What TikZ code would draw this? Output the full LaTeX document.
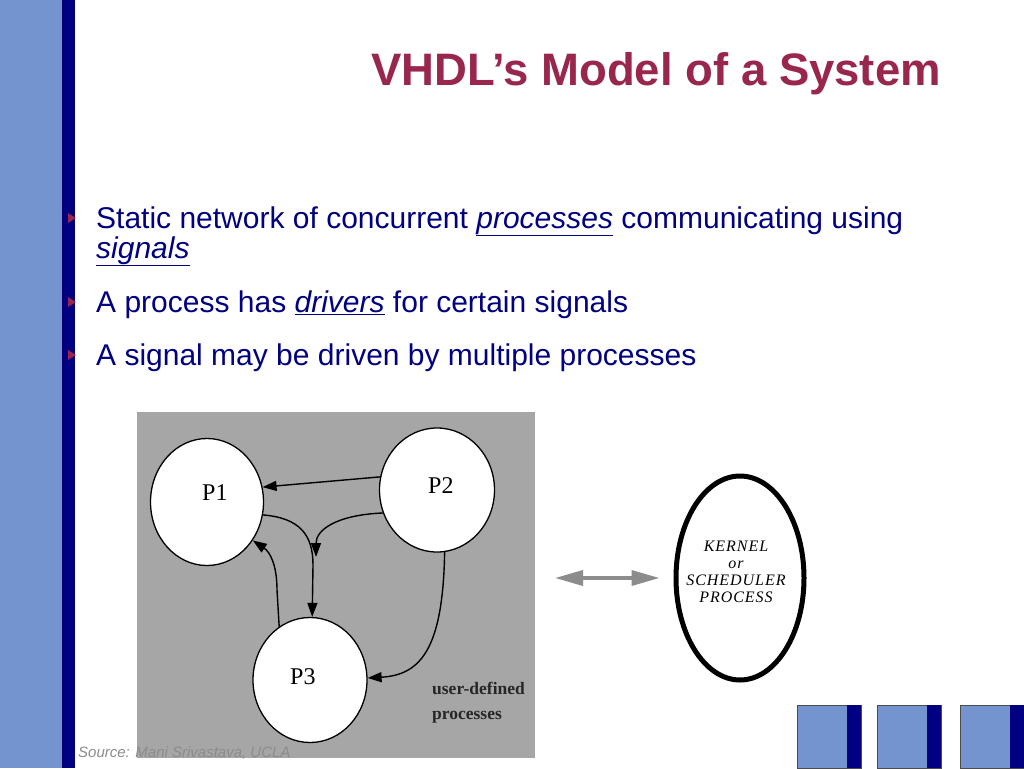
\documentclass[tikz,border=0pt]{standalone}
\usepackage{fontspec}
\setmainfont{Liberation Serif}
\setsansfont{Liberation Sans}
\usetikzlibrary{arrows.meta,positioning,shapes.geometric}
\definecolor{slideblue}{RGB}{116,148,207}
\definecolor{navybar}{RGB}{0,0,128}
\definecolor{titlered}{RGB}{153,38,77}
\definecolor{dotgray}{RGB}{166,166,166}
\tikzset{
  proc/.style={ellipse,draw=black,fill=white,line width=1.3pt,inner sep=0pt},
  plabel/.style={anchor=base west,inner sep=0pt,font=\fontsize{24}{24}\selectfont},
  sig/.style={draw=black,line width=1.4pt,-{Triangle[length=14pt,width=10pt]}},
  bullet/.style={anchor=base west,inner sep=0pt,text=navybar,font=\sffamily\fontsize{30}{30}\selectfont},
  tile/.style={fill=slideblue,draw=black!70,line width=0.8pt}
}
\begin{document}
\begin{tikzpicture}[x=1pt,y=1pt]
        \useasboundingbox (0,0) rectangle (1024,-768);
        \fill[white] (0,0) rectangle (1024,-768);
        % left strip
        \fill[slideblue] (0,0) rectangle (62,-768);
        \fill[navybar] (62,0) rectangle (75,-768);
        % title
        \node[anchor=base,text=titlered,font=\sffamily\bfseries\fontsize{45.5}{45.5}\selectfont] (title) at (656,-85) {VHDL’s Model of a System};
        % bullets
        \foreach \y in {218,302,355}
          \fill[titlered] (68,-\y+5) -- (76,-\y) -- (68,-\y-5) -- cycle;
        \node[bullet] (b1) at (96,-228) {Static network of concurrent \underline{\itshape processes} communicating using};
        \node[bullet] (b1b) at (96,-258) {\underline{\itshape signals}};
        \node[bullet] (b2) at (96,-312) {A process has \underline{\itshape drivers} for certain signals};
        \node[bullet] (b3) at (96,-365) {A signal may be driven by multiple processes};
        % figure
        \fill[dotgray] (137,-412) rectangle (535,-758);
        \node[proc,minimum width=113pt,minimum height=127pt] (p1) at (207,-502) {};
        \node[proc,minimum width=115pt,minimum height=124pt] (p2) at (437,-490) {};
        \node[proc,minimum width=114pt,minimum height=125pt] (p3) at (310,-680) {};
        \node[plabel] (p1lab) at (202,-500) {P1};
        \node[plabel] (p2lab) at (428,-493) {P2};
        \node[plabel] (p3lab) at (290,-684) {P3};
        \coordinate (join) at (316,-557);
        \draw[sig] (p2.167) -- (p1.15);
        \draw[sig] (p1.-13) .. controls (300,-518) and (313,-535) .. (313,-565) -- (p3.88);
        \draw[sig] (p2.203) .. controls (336,-515) and (316,-530) .. (join);
        \draw[sig] (p3.120) -- (277,-590) .. controls (277,-565) and (270,-552) .. (p1.-40);
        \draw[sig] (p2.-83) .. controls (443,-650) and (420,-675) .. (p3.2);
        \node[anchor=base west,inner sep=0pt,text=black!85,font=\bfseries\fontsize{17.5}{17.5}\selectfont] (ud1) at (432,-694) {user-defined};
        \node[anchor=base west,inner sep=0pt,text=black!85,font=\bfseries\fontsize{17.5}{17.5}\selectfont] (ud2) at (432,-719) {processes};
        % kernel
        \node[ellipse,draw=black,line width=5pt,minimum width=128pt,minimum height=204pt] (kern) at (740,-578) {};
        \node[align=center,font=\itshape\addfontfeature{LetterSpace=6}\fontsize{16}{17}\selectfont] (kerntext) at (736,-572) {KERNEL\\or\\SCHEDULER\\PROCESS};
        \coordinate (busend) at (555,-578);
        \draw[black!45,line width=3.5pt,{Triangle[length=28pt,width=15pt]}-{Triangle[length=28pt,width=15pt]},shorten >=14pt] (busend) -- (kern.west);
        % source
        \node[anchor=base west,inner sep=0pt,text=black!45,font=\sffamily\itshape\fontsize{15}{15}\selectfont] (src) at (78,-757) {Source: Mani Srivastava, UCLA};
        % corner tiles
        \foreach \x/\w in {797/64,877/64,960/64} {
          \draw[tile] (\x,-705) rectangle (\x+\w,-768);
          \fill[navybar] (\x+\w-14,-705) rectangle (\x+\w,-768);
        }
\end{tikzpicture}
\end{document}
